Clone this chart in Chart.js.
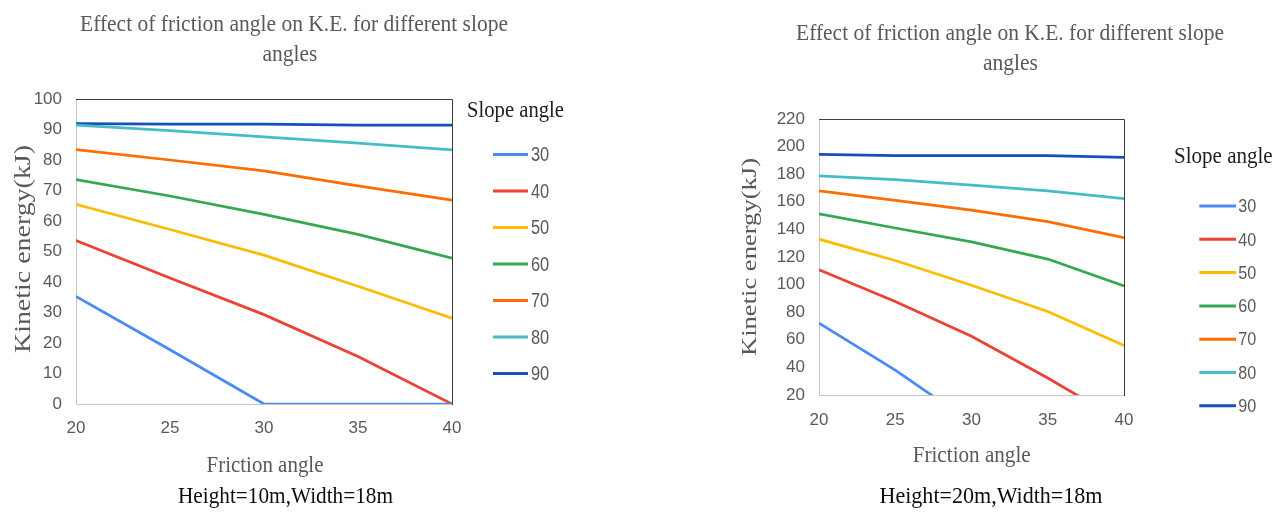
<!DOCTYPE html>
<html>
<head>
<meta charset="utf-8">
<script src="https://cdn.jsdelivr.net/npm/chart.js@4.4.1/dist/chart.umd.min.js"></script>
<style>
  html, body { margin: 0; padding: 0; background: #ffffff; overflow: hidden; }
  .box { position: absolute; top: 0; width: 641px; height: 516px; }
  #b1 { left: 0; }
  #b2 { left: 641px; }
</style>
</head>
<body>
<div class="box" id="b1"><canvas id="c1"></canvas></div>
<div class="box" id="b2"><canvas id="c2"></canvas></div>
<script>
// ---------------- DATA ----------------
const frictionAngles = [20, 25, 30, 35, 40];
const slopeAngles = ['30', '40', '50', '60', '70', '80', '90'];

// Height = 10 m, Width = 18 m  (kinetic energy, kJ)
const h10_s30 = [35.3, 17.8, 0, 0, 0];
const h10_s40 = [53.6, 41.3, 29.3, 15.6, 0];
const h10_s50 = [65.5, 57.2, 48.8, 38.6, 28.1];
const h10_s60 = [73.6, 68.2, 62.2, 55.6, 47.8];
const h10_s70 = [83.4, 80.0, 76.4, 71.5, 66.8];
const h10_s80 = [91.4, 89.6, 87.6, 85.5, 83.3];
const h10_s90 = [91.9, 91.8, 91.8, 91.4, 91.4];

// Height = 20 m, Width = 18 m  (kinetic energy, kJ)
const h20_s30 = [72, 38, 0, 0, 0];
const h20_s40 = [110.7, 87.8, 62.5, 32.3, 0];
const h20_s50 = [132.9, 117.5, 99.5, 80.5, 55.9];
const h20_s60 = [151.2, 141, 131, 118.5, 99];
const h20_s70 = [167.9, 161, 154, 145.7, 134];
const h20_s80 = [178.7, 176, 172, 168, 162.3];
const h20_s90 = [194.4, 193.4, 193.4, 193.4, 192.2];

const yTicks10 = { min: 0, max: 100, step: 10 };
const yTicks20 = { min: 20, max: 220, step: 20 };
const xTicks = { min: 20, max: 40, step: 5 };

const seriesColors = ['#4a8af4', '#ea4335', '#fbbc04', '#34a853', '#ff6d01', '#46bdc6', '#1550b8'];

const chartTitle = ['Effect of friction angle on K.E. for different slope', 'angles'];
const yAxisTitle = 'Kinetic energy(kJ)';
const xAxisTitle = 'Friction angle';
const legendTitle = 'Slope angle';
const note1 = 'Height=10m,Width=18m';
const note2 = 'Height=20m,Width=18m';

// ---------------- HELPERS ----------------
const SERIF = "'Liberation Serif', 'Times New Roman', 'DejaVu Serif', serif";
const SANS = "'Liberation Sans Narrow', 'Arial Narrow', 'Liberation Sans', Arial, sans-serif";
const GREY = '#595959';

function drawText(ctx, s, x, y, o) {
  ctx.save();
  ctx.font = o.font;
  ctx.fillStyle = o.color;
  ctx.textAlign = o.align || 'center';
  ctx.textBaseline = o.base || 'alphabetic';
  const w = ctx.measureText(s).width;
  ctx.translate(x, y);
  let sx = o.sx;
  if (o.rot) {
    ctx.scale(o.sx, 1);
    ctx.rotate(-Math.PI / 2);
    ctx.scale(o.w ? o.w / w : 1, 1);
  } else {
    if (sx === undefined) sx = o.w ? o.w / w : 1;
    ctx.scale(sx, 1);
  }
  ctx.fillText(s, 0, 0);
  ctx.restore();
  return sx;
}

const decoPlugin = {
  id: 'deco',
  beforeDatasetsDraw(chart) {
    const ctx = chart.ctx;
    const a = chart.chartArea;
    ctx.save();
    ctx.lineWidth = 1;
    ctx.strokeStyle = '#c6c6c6';
    ctx.beginPath();
    ctx.moveTo(Math.round(a.left) + 0.5, a.top);
    ctx.lineTo(Math.round(a.left) + 0.5, Math.round(a.bottom) + 0.5);
    ctx.lineTo(a.right, Math.round(a.bottom) + 0.5);
    ctx.stroke();
    ctx.strokeStyle = '#3c3c3c';
    ctx.beginPath();
    ctx.moveTo(Math.round(a.left), Math.round(a.top) + 0.5);
    ctx.lineTo(Math.round(a.right) + 0.5, Math.round(a.top) + 0.5);
    ctx.lineTo(Math.round(a.right) + 0.5, Math.round(a.bottom) + 1);
    ctx.stroke();
    ctx.restore();
  },
  afterDraw(chart, args, d) {
    const ctx = chart.ctx;
    // chart title
    const sx = drawText(ctx, chartTitle[0], d.title.x, d.title.y, { font: '23px ' + SERIF, color: GREY, w: d.title.w });
    drawText(ctx, chartTitle[1], d.title.x2, d.title.y2, { font: '23px ' + SERIF, color: GREY, sx: sx });
    // y axis title
    drawText(ctx, yAxisTitle, d.yt.x, d.yt.y, { font: d.yt.size + 'px ' + SERIF, color: GREY, rot: true, sx: 0.8, w: d.yt.len });
    // x axis title
    drawText(ctx, xAxisTitle, d.xt.x, d.xt.y, { font: '23px ' + SERIF, color: GREY, w: d.xt.w });
    // note
    drawText(ctx, d.note.text, d.note.x, d.note.y, { font: '24px ' + SERIF, color: '#0d0d0d', w: d.note.w });
    // legend
    drawText(ctx, legendTitle, d.lg.tx, d.lg.ty, { font: '23px ' + SERIF, color: '#1e1e1e', align: 'left', w: d.lg.tw });
    chart.data.datasets.forEach((ds, i) => {
      const y = d.lg.y0 + i * d.lg.dy;
      ctx.save();
      ctx.strokeStyle = ds.borderColor;
      ctx.lineWidth = 3;
      ctx.beginPath();
      ctx.moveTo(d.lg.x1, y);
      ctx.lineTo(d.lg.x2, y);
      ctx.stroke();
      ctx.restore();
      drawText(ctx, ds.label, d.lg.lx, y + 1, { font: d.lg.fs + 'px ' + "'Liberation Sans', Arial, sans-serif", color: GREY, align: 'left', base: 'middle', sx: d.lg.sx });
    });
  }
};

function makeDatasets(arrs) {
  return arrs.map((arr, i) => ({
    label: slopeAngles[i],
    data: frictionAngles.map((x, j) => ({ x: x, y: arr[j] })),
    borderColor: seriesColors[i],
    backgroundColor: seriesColors[i],
    borderWidth: 2.75,
    pointRadius: 0,
    pointHoverRadius: 0,
    tension: 0,
    fill: false
  }));
}

function makeChart(id, arrs, yT, box, deco) {
  return new Chart(document.getElementById(id), {
    type: 'line',
    data: { datasets: makeDatasets(arrs) },
    plugins: [decoPlugin],
    options: {
      responsive: true,
      maintainAspectRatio: false,
      animation: false,
      events: [],
      layout: { padding: { left: 0, top: box.top, right: box.right, bottom: 0 } },
      plugins: { legend: { display: false }, title: { display: false }, tooltip: { enabled: false }, deco: deco },
      scales: {
        x: {
          type: 'linear',
          min: xTicks.min, max: xTicks.max,
          grid: { display: false, drawTicks: false },
          border: { display: false },
          ticks: { stepSize: xTicks.step, color: GREY, padding: box.xpad, font: { family: SANS, size: 17 } },
          afterFit: s => { s.height = box.xh; }
        },
        y: {
          type: 'linear',
          min: yT.min, max: yT.max,
          grid: { display: false, drawTicks: false },
          border: { display: false },
          ticks: { stepSize: yT.step, color: GREY, padding: 14, font: { family: SANS, size: 17 } },
          afterFit: s => { s.width = box.yw; }
        }
      }
    }
  });
}

makeChart('c1',
  [h10_s30, h10_s40, h10_s50, h10_s60, h10_s70, h10_s80, h10_s90],
  yTicks10,
  { top: 99, right: 189, yw: 76, xh: 112, xpad: 14 },
  {
    title: { x: 294, y: 31, w: 428, x2: 290, y2: 61 },
    yt: { x: 29.5, y: 249, len: 208, size: 28 },
    xt: { x: 265, y: 472, w: 117 },
    note: { text: note1, x: 285.5, y: 503, w: 215 },
    lg: { tx: 467, ty: 117, tw: 97, x1: 493, x2: 528, y0: 154.5, dy: 36.5, lx: 531, fs: 20, sx: 0.82 }
  });

makeChart('c2',
  [h20_s30, h20_s40, h20_s50, h20_s60, h20_s70, h20_s80, h20_s90],
  yTicks20,
  { top: 119, right: 158, yw: 178, xh: 121, xpad: 15 },
  {
    title: { x: 369, y: 40, w: 428, x2: 369.5, y2: 70 },
    yt: { x: 115, y: 257, len: 198, size: 27 },
    xt: { x: 330.7, y: 461.7, w: 118 },
    note: { text: note2, x: 350, y: 503.3, w: 223 },
    lg: { tx: 533, ty: 163.3, tw: 98.7, x1: 558.3, x2: 595, y0: 206, dy: 33.3, lx: 597.3, fs: 19, sx: 0.85 }
  });
</script>
</body>
</html>
